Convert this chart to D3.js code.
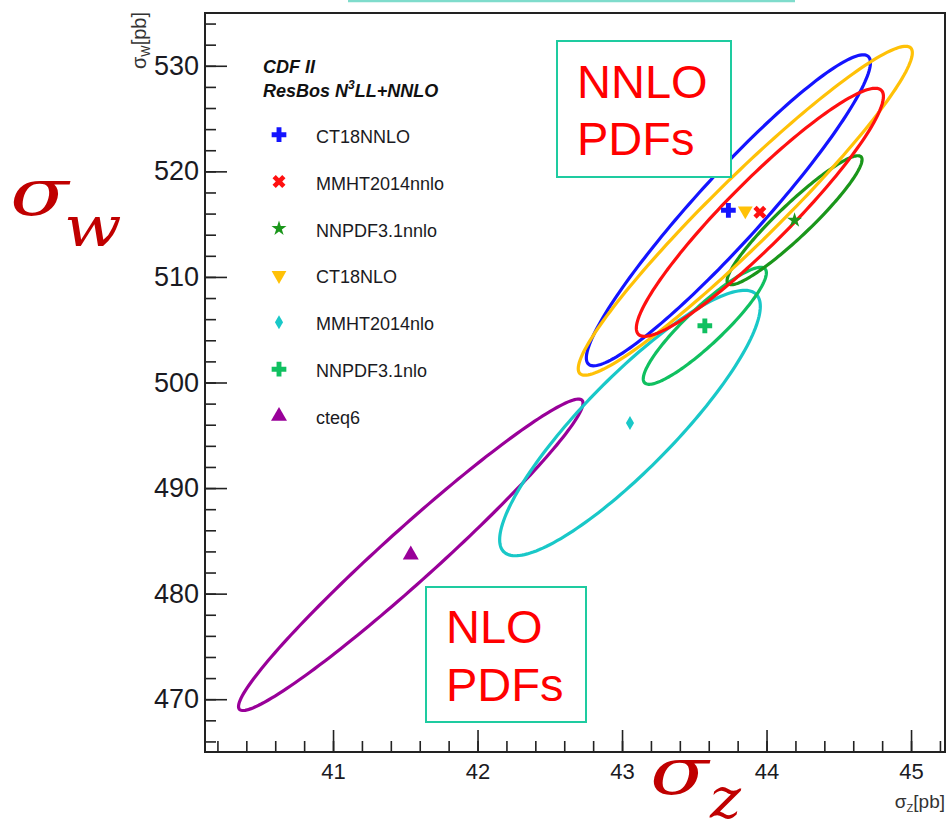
<!DOCTYPE html>
<html>
<head>
<meta charset="utf-8">
<script src="https://cdn.jsdelivr.net/npm/d3@7"></script>
<style>
  html, body { margin: 0; padding: 0; background: #fff; }
  svg { display: block; }
</style>
</head>
<body>
<svg id="chart" width="949" height="831"></svg>
<script>
// ---------- data ----------
const pdfNames  = ["CT18NNLO", "MMHT2014nnlo", "NNPDF3.1nnlo", "CT18NLO", "MMHT2014nlo", "NNPDF3.1nlo", "cteq6"];
const sigmaZ    = [43.736, 43.954, 44.194, 43.853, 43.055, 43.573, 41.538];   // central sigma_Z [pb]
const sigmaW    = [516.31, 516.12, 515.37, 516.27, 496.16, 505.37, 483.68];   // central sigma_W [pb]
const errZ      = [0.983, 0.855, 0.467, 1.156, 0.902, 0.426, 1.192];          // ellipse half-extent in sigma_Z
const errW      = [14.73, 11.75, 6.11, 15.58, 12.57, 5.54, 14.75];            // ellipse half-extent in sigma_W
const corr      = [0.949, 0.934, 0.938, 0.960, 0.879, 0.906, 0.974];          // correlation
const pdfColors = ["#1414ff", "#ff1010", "#1a961a", "#ffc107", "#19c8c8", "#10c060", "#990099"];
const markerTypes = ["cross", "times", "star", "triangleDown", "diamond", "cross", "triangle"];
const drawOrder = [6, 4, 5, 2, 0, 3, 1];

const xMajorTicks = [41, 42, 43, 44, 45];
const yMajorTicks = [470, 480, 490, 500, 510, 520, 530];
const xMinorTicks = d3.range(40.2, 45.21, 0.2).map(v => +v.toFixed(1));
const yMinorTicks = d3.range(466, 535, 2);

const legendHeader = ["CDF II", "ResBos N", "3", "LL+NNLO"];

// ---------- layout ----------
const svg = d3.select("#chart");
const x = d3.scaleLinear().domain([40.114, 45.235]).range([205, 945]);
const y = d3.scaleLinear().domain([465, 535]).range([752, 13]);

// top cut-off box edge
svg.append("line").attr("x1", 348).attr("x2", 795).attr("y1", 1).attr("y2", 1)
  .attr("stroke", "#7fdccc").attr("stroke-width", 2.5);

// frame
svg.append("rect").attr("x", 205).attr("y", 13).attr("width", 740).attr("height", 739)
  .attr("fill", "none").attr("stroke", "#222").attr("stroke-width", 2);

// axes
const gx = svg.append("g").attr("transform", "translate(0,752)");
gx.call(d3.axisBottom(x).tickValues(xMinorTicks).tickSize(-11).tickFormat(""));
gx.call(g => g.select(".domain").remove());
const gx2 = svg.append("g").attr("transform", "translate(0,752)");
gx2.call(d3.axisBottom(x).tickValues(xMajorTicks).tickSize(-22).tickPadding(11).tickFormat(d3.format("d")));
gx2.call(g => g.select(".domain").remove());
gx2.selectAll("text").attr("font-family", "Liberation Sans, Arial, sans-serif").attr("font-size", 22).attr("fill", "#1a1a22");

const gy = svg.append("g").attr("transform", "translate(205,0)");
gy.call(d3.axisLeft(y).tickValues(yMinorTicks).tickSize(-11).tickFormat(""));
gy.call(g => g.select(".domain").remove());
const gy2 = svg.append("g").attr("transform", "translate(205,0)");
gy2.call(d3.axisLeft(y).tickValues(yMajorTicks).tickSize(-22).tickPadding(6).tickFormat(d3.format("d")));
gy2.call(g => g.select(".domain").remove());
gy2.selectAll("text").attr("font-family", "Liberation Sans, Arial, sans-serif").attr("font-size", 27).attr("fill", "#1a1a22");
svg.selectAll(".tick line").attr("stroke", "#222").attr("stroke-width", 1.6);

// axis titles
const xt = svg.append("text").attr("x", 945).attr("y", 808).attr("text-anchor", "end")
  .attr("font-family", "Liberation Sans, Arial, sans-serif").attr("font-size", 19).attr("fill", "#333");
xt.append("tspan").text("σ");
xt.append("tspan").attr("font-size", 11).attr("dy", 4).text("Z");
xt.append("tspan").attr("dy", -4).text("[pb]");

const yt = svg.append("text").attr("transform", "translate(146,12) rotate(-90)").attr("text-anchor", "end")
  .attr("font-family", "Liberation Sans, Arial, sans-serif").attr("font-size", 20).attr("fill", "#333");
yt.append("tspan").text("σ");
yt.append("tspan").attr("font-size", 12).attr("dy", 4).text("W");
yt.append("tspan").attr("dy", -4).text("[pb]");

// ellipses
const tSteps = d3.range(0, 361, 2).map(d => d * Math.PI / 180);
const line = d3.line().x(d => x(d[0])).y(d => y(d[1])).curve(d3.curveLinearClosed);
const plot = svg.append("g");
drawOrder.forEach(i => {
  const pts = tSteps.map(t => [
    sigmaZ[i] + errZ[i] * Math.cos(t),
    sigmaW[i] + errW[i] * (corr[i] * Math.cos(t) + Math.sqrt(1 - corr[i] * corr[i]) * Math.sin(t))
  ]);
  plot.append("path").attr("d", line(pts)).attr("fill", "none")
    .attr("stroke", pdfColors[i]).attr("stroke-width", 3.2);
});

// markers
function markerPath(type) {
  switch (type) {
    case "cross": return { d: d3.symbol(d3.symbolCross, 120)(), rot: 0 };
    case "times": return { d: d3.symbol(d3.symbolCross, 105)(), rot: 45 };
    case "star": return { d: d3.symbol(d3.symbolStar, 70)(), rot: 0 };
    case "triangleDown": return { d: d3.symbol(d3.symbolTriangle, 95)(), rot: 180 };
    case "diamond": return { d: d3.symbol(d3.symbolDiamond, 57)(), rot: 0 };
    case "triangle": return { d: d3.symbol(d3.symbolTriangle, 110)(), rot: 0 };
  }
}
sigmaZ.forEach((v, i) => {
  const m = markerPath(markerTypes[i]);
  plot.append("path").attr("d", m.d)
    .attr("transform", `translate(${x(v)},${y(sigmaW[i])}) rotate(${m.rot})`)
    .attr("fill", pdfColors[i]);
});

// legend
const font = "Liberation Sans, Arial, sans-serif";
svg.append("text").attr("x", 263).attr("y", 73).attr("font-family", font).attr("font-size", 18)
  .attr("font-weight", "bold").attr("font-style", "italic").attr("fill", "#111").text(legendHeader[0]);
const h2 = svg.append("text").attr("x", 263).attr("y", 97).attr("font-family", font).attr("font-size", 18)
  .attr("font-weight", "bold").attr("font-style", "italic").attr("fill", "#111");
h2.append("tspan").text(legendHeader[1]);
h2.append("tspan").attr("font-size", 12).attr("dy", -8).text(legendHeader[2]);
h2.append("tspan").attr("dy", 8).text(legendHeader[3]);

pdfNames.forEach((name, i) => {
  const by = 142.7 + i * 46.9;
  const m = markerPath(markerTypes[i]);
  svg.append("path").attr("d", m.d)
    .attr("transform", `translate(279,${by - 8}) rotate(${m.rot})`)
    .attr("fill", pdfColors[i]);
  svg.append("text").attr("x", 316).attr("y", by).attr("font-family", font).attr("font-size", 18)
    .attr("fill", "#1a1a22").text(name);
});

// annotation boxes
const boxes = [
  { x: 557, y: 41, w: 174, h: 136, lines: ["NNLO", "PDFs"], tx: 577, ty: [98, 155] },
  { x: 426, y: 587, w: 160, h: 135, lines: ["NLO", "PDFs"], tx: 446, ty: [643, 701] }
];
boxes.forEach(b => {
  svg.append("rect").attr("x", b.x).attr("y", b.y).attr("width", b.w).attr("height", b.h)
    .attr("fill", "#fff").attr("stroke", "#1ecba0").attr("stroke-width", 2);
  b.lines.forEach((t, k) => {
    svg.append("text").attr("x", b.tx).attr("y", b.ty[k]).attr("font-family", font)
      .attr("font-size", 47).attr("fill", "#ff0000").text(t);
  });
});

// big sigma labels
function bigSigma(xp, yp, sub, subX, subY, subSize, subScale) {
  svg.append("text").attr("transform", `translate(${xp},${yp}) scale(1.3,1)`)
    .attr("font-family", "DejaVu Serif, serif").attr("font-style", "italic")
    .attr("font-size", 66).attr("fill", "#c00000").text("σ");
  svg.append("text").attr("transform", `translate(${subX},${subY}) scale(${subScale},1)`)
    .attr("font-family", "DejaVu Serif, serif").attr("font-style", "italic")
    .attr("font-size", subSize).attr("fill", "#c00000").text(sub);
}
bigSigma(10, 215, "w", 64, 246, 56, 1.2);
bigSigma(650, 794, "z", 710, 818, 56, 1.05);
</script>
</body>
</html>
